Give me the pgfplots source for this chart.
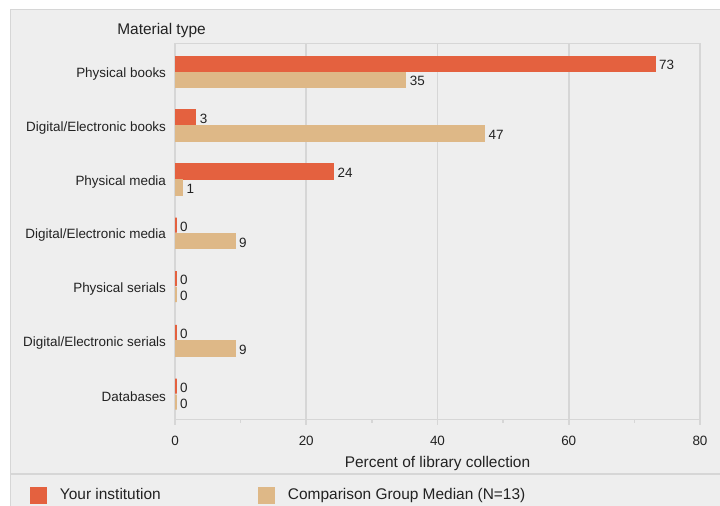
\documentclass[border=0pt]{standalone}
\usepackage{fontspec}
\setmainfont{Liberation Sans}
\usepackage{pgfplots}
\usepackage{pgfplotstable}
\pgfplotsset{compat=1.18}

\definecolor{inst}{HTML}{E4613F}
\definecolor{comp}{HTML}{DEB887}
\definecolor{panel}{HTML}{EEEEEE}
\definecolor{rule}{HTML}{D6D6D6}
\definecolor{ink}{HTML}{222222}

% pos: 6 = top row
\pgfplotstableread{
pos inst comp
6 73 35
5 3 47
4 24 1
3 0 9
2 0 0
1 0 9
0 0 0
}\collection

\begin{document}
\begin{tikzpicture}
\useasboundingbox (-175bp,-86.5bp) rectangle (545bp,419.5bp);
\fill[white] (-175bp,-86.5bp) rectangle (545bp,419.5bp);
\filldraw[fill=panel, draw=rule, line width=1.2bp] (-164.5bp,410bp) rectangle (560bp,-100bp);
\draw[rule, line width=1.5bp] (-164.5bp,-54.5bp) -- (560bp,-54.5bp);
\begin{axis}[
  at={(0,0)}, anchor=south west,
  scale only axis, width=525bp, height=376bp,
  xmin=0, xmax=80, ymin=-0.5, ymax=6.5,
  xbar, bar width=15bp,
  /pgf/number format/assume math mode=true,
  xtick={0,20,...,80}, minor xtick={10,30,50,70},
  xtick pos=left, tick align=outside,
  major tick length=5bp, minor tick length=3bp,
  tick style={draw=rule, line width=1.5bp},
  ytick={0,...,6},
  yticklabels={Databases,Digital/Electronic serials,Physical serials,Digital/Electronic media,Physical media,Digital/Electronic books,Physical books},
  ytick style={draw=none}, y tick label style={xshift=-0.5bp, yshift=-4bp},
  x tick label style={yshift=-8bp},
  ticklabel style={font=\fontsize{13.5}{15}\selectfont, text=ink},
  xmajorgrids, grid style={draw=rule, line width=1.5bp},
  axis line style={draw=rule, line width=1.5bp},
  xlabel={Percent of library collection},
  xlabel style={at={(axis description cs:0.5,-0.118)}, anchor=center, font=\fontsize{15.5}{17}\selectfont, text=ink},
  title={Material type},
  title style={at={(axis description cs:-0.0257,1.0085)}, anchor=base, font=\fontsize{15.5}{17}\selectfont, text=ink},
  nodes near coords,
  every node near coord/.append style={font=\fontsize{13.5}{15}\selectfont, text=ink, yshift=-1.5bp},
  legend columns=2,
  legend image code/.code={\fill[#1,draw=none] (0bp,-8.5bp) rectangle (17bp,8.5bp);},
  legend style={at={(axis description cs:-0.27619,-0.2008)}, anchor=west,
    draw=none, fill=none, inner sep=0pt, outer sep=0pt,
    nodes={inner sep=0pt}, font=\fontsize{15.5}{17}\selectfont, text=ink,
    /tikz/every odd column/.append style={column sep=13bp}},
]
\addplot[fill=inst, draw=inst, line width=1.6bp, bar shift=6.5bp, xshift=1bp]
  table[x=inst, y=pos] {\collection};
\addlegendentry{\makebox[198bp][l]{Your institution}}
\addplot[fill=comp, draw=comp, line width=1.6bp, bar shift=-9.5bp, xshift=1bp]
  table[x=comp, y=pos] {\collection};
\addlegendentry{Comparison Group Median (N=13)}
\end{axis}
\end{tikzpicture}
\end{document}
